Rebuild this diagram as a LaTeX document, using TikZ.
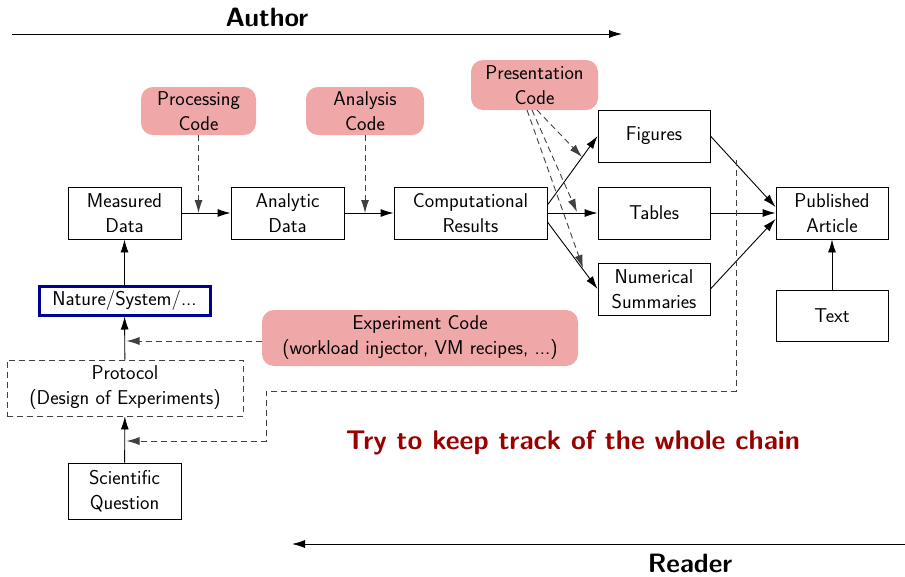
\documentclass[tikz,border=0pt]{standalone}
\usepackage{fontspec}
\usetikzlibrary{arrows.meta,calc}
\definecolor{pinkc}{RGB}{239,167,167}
\definecolor{darkred}{RGB}{153,0,0}
\definecolor{navyb}{RGB}{0,0,150}
\begin{document}
\begin{tikzpicture}[x=1pt,y=-1pt,
  every node/.style={font=\sffamily\fontsize{20}{25}\selectfont},
  box/.style={draw, line width=0.9pt, align=center, inner sep=0pt, minimum width=113pt, minimum height=52pt},
  code/.style={fill=pinkc, rounded corners=12pt, align=center, inner sep=0pt},
  big/.style={font=\sffamily\bfseries\fontsize{26.5}{30}\selectfont},
  arr/.style={-{Latex[length=13pt,width=8pt]}, line width=0.9pt},
  darr/.style={-{Latex[length=13pt,width=8pt]}, line width=0.9pt, black!75, dash pattern=on 6pt off 4pt},
]
\useasboundingbox (0,0) rectangle (905,576);
% top / bottom
\node[big] (author) at (267,17) {Author};
\coordinate (a1) at (12,34);
\coordinate (a2) at (622,34);
\draw[arr] (a1) -- (a2);
\node[big] (reader) at (690,563) {Reader};
\coordinate (r1) at (905,544);
\coordinate (r2) at (292,544);
\draw[arr] (r1) -- (r2);
% boxes
\node[box] (meas) at (124.5,213) {Measured\\Data};
\node[box] (anal) at (287.5,213) {Analytic\\Data};
\node[box, minimum width=153pt] (comp) at (470.5,213) {Computational\\Results};
\node[box, minimum width=112pt] (fig) at (654,136) {Figures};
\node[box, minimum width=112pt] (tab) at (654,213) {Tables};
\node[box, minimum width=112pt] (num) at (654,289) {Numerical\\Summaries};
\node[box, minimum width=112pt] (pub) at (832,213) {Published\\Article};
\node[box, minimum width=112pt, minimum height=51pt] (txt) at (832,315.5) {Text};
\node[draw=navyb, line width=3pt, inner sep=0pt, minimum width=171pt, minimum height=29pt] (nat) at (124.5,300.5) {Nature/System/...};
\node[draw=black!75, dash pattern=on 6pt off 4pt, line width=0.9pt, align=center, inner sep=0pt, minimum width=236pt, minimum height=56pt] (prot) at (125,388) {Protocol\\(Design of Experiments)};
\node[box, minimum height=56pt] (sci) at (124.5,491) {Scientific\\Question};
% code nodes
\node[code, minimum width=115pt, minimum height=48pt] (proc) at (198.5,111) {Processing\\Code};
\node[code, minimum width=118pt, minimum height=48pt] (ana) at (365,111) {Analysis\\Code};
\node[code, minimum width=127pt, minimum height=50pt] (pres) at (534.5,85) {Presentation\\Code};
\node[code, minimum width=316pt, minimum height=56pt] (exp) at (420,338) {Experiment Code\\(workload injector, VM recipes, ...)};
% message
\node[font=\sffamily\bfseries\fontsize{27}{30}\selectfont, text=darkred] (msg) at (573,443) {Try to keep track of the whole chain};
% main chain
\draw[arr] (meas) -- (anal);
\draw[arr] (anal) -- (comp);
\draw[arr] (nat) -- (meas);
\draw[arr] (prot) -- (nat);
\draw[arr] (sci) -- (prot);
\draw[arr] ($(comp.east)+(0,-8)$) -- (fig.west);
\draw[arr] (comp.east) -- (tab.west);
\draw[arr] ($(comp.east)+(0,9)$) -- (num.west);
\draw[arr] (fig.east) -- ($(pub.west)+(0,-6)$);
\draw[arr] (tab.east) -- (pub.west);
\draw[arr] (num.east) -- ($(pub.west)+(0,6)$);
\draw[arr] (txt) -- (pub);
% code dashed arrows
\draw[darr] (proc.south) -- (proc.south |- meas.east);
\draw[darr] (ana.south) -- (ana.south |- anal.east);
\coordinate (p1) at (537,110);
\coordinate (p2) at (532,110);
\coordinate (p3) at (527,110);
\coordinate (t1) at (582,157);
\coordinate (t2) at (577,212);
\coordinate (t3) at (583,268);
\draw[darr] (p1) -- (t1);
\draw[darr] (p2) -- (t2);
\draw[darr] (p3) -- (t3);
\coordinate (e1) at ($(exp.west)+(0,3)$);
\draw[darr] (e1) -- ($(e1 -| nat.center)+(2,0)$);
% feedback
\coordinate (fb) at (736,160);
\coordinate (fb2) at (736,391);
\coordinate (fb3) at (266,391);
\coordinate (fb4) at (266,441);
\draw[darr] (fb) -- (fb2) -- (fb3) -- (fb4) -- ($(fb4 -| sci.center)+(2,0)$);
\end{tikzpicture}
\end{document}
